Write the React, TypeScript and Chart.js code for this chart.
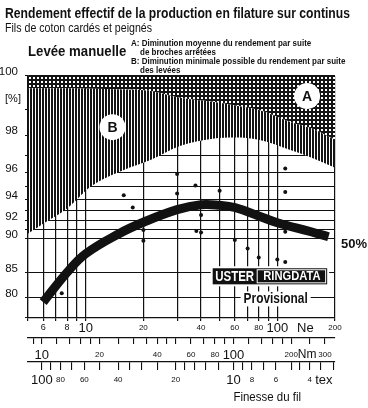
import React, { useEffect, useRef } from 'react';
import { Chart, registerables, LinearScale } from 'chart.js';

// ---------------- data ----------------
const NE_TICKS = [5, 6, 7, 8, 9, 10, 20, 30, 40, 50, 60, 70, 80, 90, 100, 200];
const NE_LABELS = [6, 8, 10, 20, 40, 60, 80, 100, 200];
const NM_TICKS = [9, 10, 12, 14, 16, 18, 20, 25, 30, 35, 40, 45, 50, 60, 70, 80, 90, 100, 120, 140, 160, 180, 200, 250, 300];
const NM_LABELS = [10, 20, 40, 60, 80, 100, 200, 300];
const TEX_TICKS = [100, 90, 80, 70, 60, 50, 40, 35, 30, 25, 20, 18, 16, 14, 12, 10, 9, 8, 7, 6, 5, 4.5, 4, 3.5, 3];
const TEX_LABELS = [100, 80, 60, 40, 20, 10, 8, 6, 4];
const BIG_LABELS = [10, 100];
const Y_GRID = [100, 99, 98, 97, 96, 95, 94, 93, 92, 91, 90, 85, 80, 75];
const Y_LABELS = [100, 98, 96, 94, 92, 90, 85, 80];

const NE_MIN = 5;
const NE_MAX = 200;
const NM_PER_NE = 1.6934;
const TEX_TIMES_NE = 590.54;
const Y_MIN = 75;
const Y_MAX = 100;

// 50 % curve
const CURVE_NE = [6, 8, 10, 15, 20, 30, 40, 50, 60, 80, 100, 150, 185];
const CURVE_PCT = [79.0, 85.0, 87.95, 90.6, 91.85, 93.1, 93.55, 93.5, 93.3, 92.5, 91.8, 90.8, 90.2];

// measured points
const POINT_NE = [7.5, 15.8, 17.6, 20, 20, 30, 30, 37.4, 40, 37.8, 40, 50, 60, 70, 80, 100, 110, 110, 110, 110];
const POINT_PCT = [81.0, 94.35, 93.3, 91.0, 89.7, 95.9, 94.5, 95.1, 92.6, 90.9, 90.7, 94.7, 89.8, 88.7, 87.4, 87.1, 96.25, 94.6, 90.8, 86.7];

// zones A (dotted) and B (hatched)
const ZONE_NE = [5, 6, 8, 10.6, 15.8, 21.8, 31, 46, 60, 80, 117, 150, 200];
const ZONE_A_EDGE = [99.68, 99.68, 99.68, 99.66, 99.64, 99.6, 99.4, 99.27, 99.15, 99.0, 98.56, 98.3, 97.8];
const ZONE_B_EDGE = [90.6, 91.7, 93.2, 95.0, 96.15, 96.75, 97.5, 97.85, 97.9, 97.8, 97.3, 96.9, 96.3];

// ---------------- styling ----------------
const FONT = '"Liberation Sans", Arial, Helvetica, sans-serif';
const INK = '#111111';
const Y_K = 102.5;

class UsterScale extends LinearScale {
  static id = 'uster';
  static defaults = { ...(LinearScale as any).defaults };
  _t(v: number) {
    return -Math.log10(Y_K - v);
  }
  getPixelForValue(value: any) {
    if (value === null || value === undefined || isNaN(value)) return NaN;
    const a = this._t((this as any).min);
    const b = this._t((this as any).max);
    return (this as any).getPixelForDecimal((this._t(value) - a) / (b - a));
  }
  getValueForPixel(pixel: number) {
    const a = this._t((this as any).min);
    const b = this._t((this as any).max);
    const t = a + (this as any).getDecimalForPixel(pixel) * (b - a);
    return Y_K - Math.pow(10, -t);
  }
  buildTicks() {
    return Y_GRID.map((v) => ({ value: v }));
  }
}

Chart.register(...registerables, UsterScale as any);

function txt(
  ctx: CanvasRenderingContext2D,
  s: string,
  x: number,
  y: number,
  font: string,
  opts: { sx?: number; align?: CanvasTextAlign; baseline?: CanvasTextBaseline; color?: string } = {}
) {
  ctx.save();
  ctx.font = font;
  ctx.fillStyle = opts.color ?? INK;
  ctx.textAlign = opts.align ?? 'left';
  ctx.textBaseline = opts.baseline ?? 'alphabetic';
  ctx.translate(x, y);
  ctx.scale(opts.sx ?? 1, 1);
  ctx.fillText(s, 0, 0);
  ctx.restore();
}

const annotations = {
  id: 'annotations',
  afterDatasetsDraw(chart: any) {
    const { ctx, chartArea, scales } = chart;
    const xs = scales.x;
    const ys = scales.y;
    const px = (ne: number) => xs.getPixelForValue(ne);
    const py = (v: number) => ys.getPixelForValue(v);
    ctx.save();

    // zone circles
    const circles: [string, number, number][] = [
      ['A', 143, 99.45],
      ['B', 13.8, 98.35],
    ];
    for (const [label, ne, v] of circles) {
      const cx = px(ne);
      const cy = py(v);
      ctx.beginPath();
      ctx.fillStyle = '#fff';
      ctx.arc(cx, cy, 13, 0, Math.PI * 2);
      ctx.fill();
      txt(ctx, label, cx, cy + 1, `bold 14px ${FONT}`, { align: 'center', baseline: 'middle' });
    }

    // USTER RINGDATA logo
    const lx0 = px(46);
    const lx1 = px(182);
    const ly0 = py(85.7);
    const ly1 = py(82.8);
    ctx.fillStyle = '#fff';
    ctx.fillRect(lx0 - 2, ly0 - 2, lx1 - lx0 + 4, ly1 - ly0 + 4);
    ctx.fillStyle = INK;
    ctx.fillRect(lx0, ly0, lx1 - lx0, ly1 - ly0);
    const split = lx0 + 44;
    ctx.strokeStyle = '#fff';
    ctx.lineWidth = 1;
    ctx.strokeRect(split + 0.5, ly0 + 1.5, lx1 - split - 2, ly1 - ly0 - 3);
    const lmid = (ly0 + ly1) / 2 + 0.5;
    txt(ctx, 'USTER', (lx0 + split) / 2, lmid, `bold 14px ${FONT}`, { align: 'center', baseline: 'middle', color: '#fff', sx: 0.82 });
    txt(ctx, 'RINGDATA', (split + lx1) / 2, lmid, `bold 13px ${FONT}`, { align: 'center', baseline: 'middle', color: '#fff', sx: 0.86 });

    // Provisional
    const pvx = px(98);
    const pvy = py(78.7);
    ctx.fillStyle = '#fff';
    ctx.fillRect(pvx - 35, pvy - 12, 70, 15);
    txt(ctx, 'Provisional', pvx, pvy, `bold 14px ${FONT}`, { align: 'center', sx: 0.85 });

    // 50 %
    const endI = CURVE_NE.length - 1;
    txt(ctx, '50%', chartArea.right + 6, py(CURVE_PCT[endI]) + 11, `bold 13px ${FONT}`);

    // unit labels on axes
    txt(ctx, '[%]', 13, 99, `11px ${FONT}`, { align: 'center', baseline: 'middle' });
    txt(ctx, 'Ne', px(140), 328, `13px ${FONT}`, { align: 'center', baseline: 'middle' });
    txt(ctx, 'Nm', px(143), 355, `12px ${FONT}`, { align: 'center', baseline: 'middle' });
    txt(ctx, 'tex', px(175), 380, `13px ${FONT}`, { align: 'center', baseline: 'middle' });
    txt(ctx, 'Finesse du fil', px(59), 397, `13.5px ${FONT}`, { baseline: 'middle', sx: 0.85 });

    // header
    txt(ctx, 'Rendement effectif de la production en filature sur continus', 5, 18, `bold 15px ${FONT}`, { sx: 0.81 });
    txt(ctx, 'Fils de coton cardés et peignés', 5, 32, `12.5px ${FONT}`, { sx: 0.85 });
    txt(ctx, 'Levée manuelle', 28, 56, `bold 15px ${FONT}`, { sx: 0.88 });
    const small = `bold 8.5px ${FONT}`;
    txt(ctx, 'A: Diminution moyenne du rendement par suite', 131, 46, small, { sx: 0.94 });
    txt(ctx, 'de broches arrêtées', 140, 55, small, { sx: 0.94 });
    txt(ctx, 'B: Diminution minimale possible du rendement par suite', 131, 64, small, { sx: 0.94 });
    txt(ctx, 'des levées', 140, 73, small, { sx: 0.94 });

    ctx.restore();
  },
};

function makeDots(ctx: CanvasRenderingContext2D) {
  const c = document.createElement('canvas');
  c.width = 4;
  c.height = 4;
  const g = c.getContext('2d')!;
  g.fillStyle = '#141414';
  g.fillRect(0, 0, 4, 4);
  g.fillStyle = '#ffffff';
  g.fillRect(1, 1, 2, 2);
  return ctx.createPattern(c, 'repeat');
}

function makeHatch(ctx: CanvasRenderingContext2D) {
  const c = document.createElement('canvas');
  c.width = 3;
  c.height = 1;
  const g = c.getContext('2d')!;
  g.fillStyle = '#ffffff';
  g.fillRect(0, 0, 3, 1);
  g.fillStyle = '#141414';
  g.fillRect(0, 0, 2, 1);
  return ctx.createPattern(c, 'repeat');
}

const tickFont = (size: number) => ({ size, family: FONT, lineHeight: '14px' });

export default function App() {
  const ref = useRef<HTMLCanvasElement>(null);

  useEffect(() => {
    const canvas = ref.current!;
    const c2d = canvas.getContext('2d')!;
    const dots = makeDots(c2d);
    const hatch = makeHatch(c2d);

    const pts = (xs: number[], ys: number[]) => xs.map((x, i) => ({ x, y: ys[i] }));

    const chart = new Chart(canvas, {
      type: 'line',
      data: {
        datasets: [
          {
            label: 'A',
            data: pts(ZONE_NE, ZONE_A_EDGE),
            borderWidth: 0,
            pointRadius: 0,
            fill: 'end',
            backgroundColor: dots as any,
            cubicInterpolationMode: 'monotone',
            order: 10,
            xAxisID: 'x',
            yAxisID: 'y',
          },
          {
            label: 'B',
            data: pts(ZONE_NE, ZONE_B_EDGE),
            borderWidth: 0,
            pointRadius: 0,
            fill: '-1',
            backgroundColor: hatch as any,
            cubicInterpolationMode: 'monotone',
            order: 9,
            xAxisID: 'x',
            yAxisID: 'y',
          },
          {
            type: 'scatter',
            label: 'points',
            data: pts(POINT_NE, POINT_PCT),
            showLine: false,
            pointRadius: 2,
            pointBorderWidth: 0,
            backgroundColor: INK,
            borderColor: INK,
            order: 1,
            xAxisID: 'x',
            yAxisID: 'y',
          } as any,
          {
            label: '50%',
            data: pts(CURVE_NE, CURVE_PCT),
            borderWidth: 9,
            borderColor: INK,
            borderCapStyle: 'butt',
            pointRadius: 0,
            fill: false,
            tension: 0.4,
            order: 0,
            xAxisID: 'x',
            yAxisID: 'y',
          },
        ],
      },
      options: {
        responsive: false,
        animation: false,
        events: [],
        devicePixelRatio: 1,
        layout: { padding: { top: 76, left: 0, right: 33, bottom: 16 } },
        plugins: {
          legend: { display: false },
          tooltip: { enabled: false },
          title: { display: false },
        },
        scales: {
          x: {
            type: 'logarithmic',
            position: 'bottom',
            weight: 0,
            min: NE_MIN,
            max: NE_MAX,
            afterBuildTicks: (s: any) => {
              s.ticks = NE_TICKS.map((v) => ({ value: v }));
            },
            afterFit: (s: any) => {
              s.height = 20;
            },
            grid: { color: INK, lineWidth: 1.2, tickLength: 3, drawTicks: true, tickColor: INK },
            border: { display: true, color: INK, width: 1.2 },
            ticks: {
              autoSkip: false,
              maxRotation: 0,
              minRotation: 0,
              padding: 0,
              color: INK,
              font: (c: any) => tickFont(BIG_LABELS.includes(c.tick?.value) ? 13 : c.tick?.value < 10 ? 9 : 8),
              callback: (v: any) => (NE_LABELS.includes(Number(v)) ? String(v) : ''),
            },
          },
          nm: {
            type: 'logarithmic',
            position: 'bottom',
            weight: 1,
            min: NE_MIN * NM_PER_NE,
            max: NE_MAX * NM_PER_NE,
            afterBuildTicks: (s: any) => {
              s.ticks = NM_TICKS.map((v) => ({ value: v }));
            },
            afterFit: (s: any) => {
              s.height = 24;
            },
            grid: { drawOnChartArea: false, drawTicks: true, tickLength: 6, color: INK, lineWidth: 1.1, tickColor: INK },
            border: { display: true, color: INK, width: 1.2 },
            ticks: {
              autoSkip: false,
              maxRotation: 0,
              minRotation: 0,
              padding: 4,
              color: INK,
              font: (c: any) => tickFont(BIG_LABELS.includes(c.tick?.value) ? 13 : 8),
              callback: (v: any) => (NM_LABELS.includes(Number(v)) ? String(v) : ''),
            },
          },
          tex: {
            type: 'logarithmic',
            position: 'bottom',
            weight: 2,
            reverse: true,
            min: TEX_TIMES_NE / NE_MAX,
            max: TEX_TIMES_NE / NE_MIN,
            afterBuildTicks: (s: any) => {
              s.ticks = TEX_TICKS.map((v) => ({ value: v }));
            },
            afterFit: (s: any) => {
              s.height = 30;
            },
            grid: { drawOnChartArea: false, drawTicks: true, tickLength: 8, color: INK, lineWidth: 1.1, tickColor: INK },
            border: { display: true, color: INK, width: 1.2 },
            ticks: {
              autoSkip: false,
              maxRotation: 0,
              minRotation: 0,
              padding: 3,
              color: INK,
              font: (c: any) => tickFont(BIG_LABELS.includes(c.tick?.value) ? 13 : 8),
              callback: (v: any) => (TEX_LABELS.includes(Number(v)) ? String(v) : ''),
            },
          },
          y: {
            type: 'uster' as any,
            position: 'left',
            min: Y_MIN,
            max: Y_MAX,
            afterFit: (s: any) => {
              s.width = 28;
            },
            grid: { color: INK, lineWidth: 1.1, tickLength: 3, drawTicks: true, tickColor: INK },
            border: { display: true, color: INK, width: 1.2 },
            ticks: {
              autoSkip: false,
              padding: 7,
              labelOffset: -4,
              color: INK,
              font: { size: 11.5, family: FONT },
              callback: (v: any) => (Y_LABELS.includes(Number(v)) ? String(v) : ''),
            },
          },
        } as any,
      },
      plugins: [annotations],
    } as any);

    return () => chart.destroy();
  }, []);

  return (
    <div style={{ position: 'fixed', left: 0, top: 0, width: 368, height: 408, background: '#fff' }}>
      <canvas ref={ref} width={368} height={408} style={{ display: 'block', width: 368, height: 408 }} />
    </div>
  );
}
